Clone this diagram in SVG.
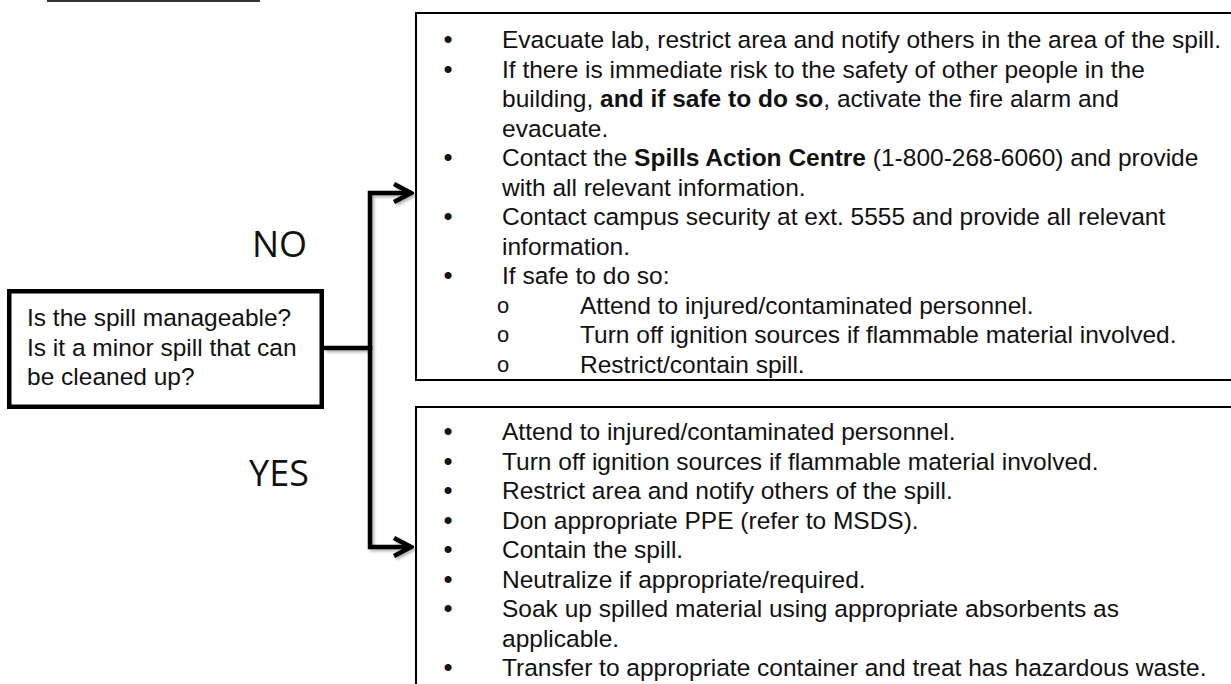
<svg xmlns="http://www.w3.org/2000/svg" width="1231" height="684" viewBox="0 0 1231 684">
  <style>
    .t { font-family: "Liberation Sans", Arial, sans-serif; font-size: 24.5px; fill: #111; }
    .b { font-weight: bold; }
    .bul { font-family: "Liberation Sans", Arial, sans-serif; font-size: 26px; fill: #111; text-anchor: middle; }
    .sub { font-family: "Liberation Mono", "Courier New", monospace; font-size: 22px; fill: #111; text-anchor: middle; }
    .lbl { font-family: "Open Sans", "Noto Sans", sans-serif; font-size: 36px; fill: #111; }
    .thin { fill: #fff; stroke: #000; stroke-width: 2; }
    .conn { fill: none; stroke: #000; stroke-width: 4.5; stroke-linejoin: miter; }
  </style>
  <defs>
    <marker id="chev" markerUnits="userSpaceOnUse" viewBox="0 0 22 22" markerWidth="22" markerHeight="22" refX="19" refY="11" orient="auto">
      <path d="M2,2 L19,11 L2,20" fill="none" stroke="#000" stroke-width="4.5" stroke-linejoin="miter" stroke-linecap="butt"/>
    </marker>
    <filter id="sh" x="-20%" y="-20%" width="140%" height="140%">
      <feDropShadow dx="2" dy="2" stdDeviation="1.5" flood-color="#000" flood-opacity="0.3"/>
    </filter>
  </defs>
  <rect width="1231" height="684" fill="#fff"/>

  <line x1="47" y1="1" x2="260" y2="1" stroke="#333" stroke-width="2"/>

  <g id="connectors" filter="url(#sh)">
    <path class="conn" d="M324,348 H370"/>
    <path class="conn" d="M370,350 V193 H411" marker-end="url(#chev)"/>
    <path class="conn" d="M370,346 V547 H411" marker-end="url(#chev)"/>
  </g>

  <g id="question">
    <rect x="9.25" y="291.25" width="312.5" height="115.5" fill="#fff" stroke="#000" stroke-width="4.5"/>
    <text class="t"><tspan x="27" y="326">Is the spill manageable?</tspan><tspan x="27" y="355.5">Is it a minor spill that can</tspan><tspan x="27" y="385">be cleaned up?</tspan></text>
  </g>

  <g id="label-no">
    <text class="lbl" x="252" y="257">NO</text>
  </g>
  <g id="label-yes">
    <text class="lbl" x="249" y="486">YES</text>
  </g>

  <g id="no-actions">
    <rect class="thin" x="416" y="13" width="900" height="367"/>
    <text class="bul" x="448" y="48">•</text>
    <text class="bul" x="448" y="77.5">•</text>
    <text class="bul" x="448" y="166">•</text>
    <text class="bul" x="448" y="225">•</text>
    <text class="bul" x="448" y="284">•</text>
    <text class="sub" x="503" y="312.5">o</text>
    <text class="sub" x="503" y="342">o</text>
    <text class="sub" x="503" y="371.5">o</text>
    <text class="t"><tspan x="502" y="48">Evacuate lab, restrict area and notify others in the area of the spill.</tspan><tspan x="502" y="77.5">If there is immediate risk to the safety of other people in the</tspan><tspan x="502" y="107">building, <tspan class="b">and if safe to do so</tspan>, activate the fire alarm and</tspan><tspan x="502" y="136.5">evacuate.</tspan><tspan x="502" y="166">Contact the <tspan class="b">Spills Action Centre</tspan> (1-800-268-6060) and provide</tspan><tspan x="502" y="195.5">with all relevant information.</tspan><tspan x="502" y="225">Contact campus security at ext. 5555 and provide all relevant</tspan><tspan x="502" y="254.5">information.</tspan><tspan x="502" y="284">If safe to do so:</tspan><tspan x="580" y="313.5">Attend to injured/contaminated personnel.</tspan><tspan x="580" y="343">Turn off ignition sources if flammable material involved.</tspan><tspan x="580" y="372.5">Restrict/contain spill.</tspan></text>
  </g>

  <g id="yes-actions">
    <rect class="thin" x="416" y="407" width="900" height="400"/>
    <text class="bul" x="448" y="440">•</text>
    <text class="bul" x="448" y="469.5">•</text>
    <text class="bul" x="448" y="499">•</text>
    <text class="bul" x="448" y="528.5">•</text>
    <text class="bul" x="448" y="558">•</text>
    <text class="bul" x="448" y="587.5">•</text>
    <text class="bul" x="448" y="617">•</text>
    <text class="bul" x="448" y="676">•</text>
    <text class="t"><tspan x="502" y="440">Attend to injured/contaminated personnel.</tspan><tspan x="502" y="469.5">Turn off ignition sources if flammable material involved.</tspan><tspan x="502" y="499">Restrict area and notify others of the spill.</tspan><tspan x="502" y="528.5">Don appropriate PPE (refer to MSDS).</tspan><tspan x="502" y="558">Contain the spill.</tspan><tspan x="502" y="587.5">Neutralize if appropriate/required.</tspan><tspan x="502" y="617">Soak up spilled material using appropriate absorbents as</tspan><tspan x="502" y="646.5">applicable.</tspan><tspan x="502" y="676">Transfer to appropriate container and treat has hazardous waste.</tspan></text>
  </g>
</svg>
